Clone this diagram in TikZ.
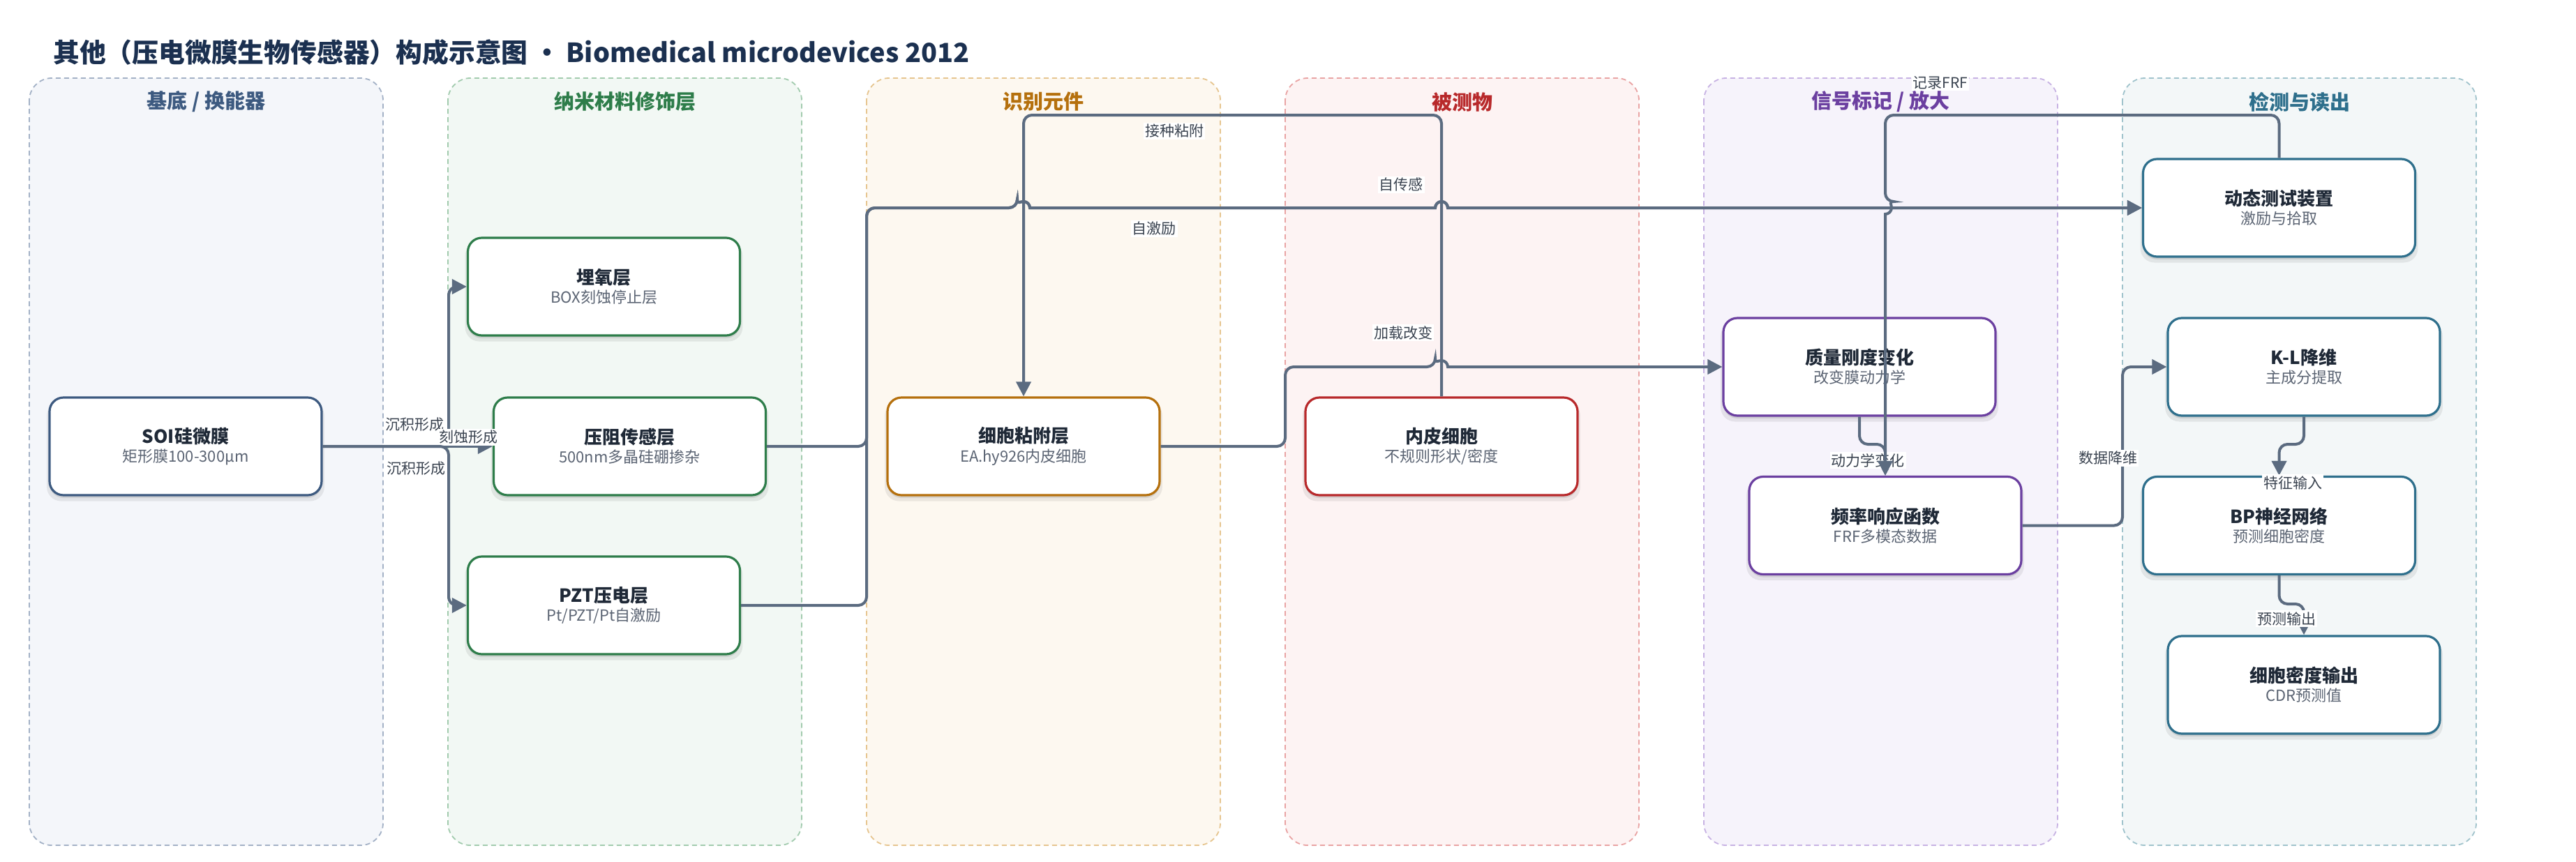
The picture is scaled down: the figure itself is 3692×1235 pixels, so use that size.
\documentclass[tikz,border=0pt]{standalone}
\usepackage{fontspec}
\setmainfont{Noto Sans CJK SC}
\usetikzlibrary{arrows.meta,shadows}
\definecolor{titlec}{HTML}{1B3050}
\definecolor{ttl}{HTML}{1F2937}
\definecolor{sub}{HTML}{5B6473}
\definecolor{lblc}{HTML}{3A4350}
\definecolor{linec}{HTML}{5B6B80}
\definecolor{fA}{HTML}{F4F6FA}\definecolor{bA}{HTML}{A3B1C6}\definecolor{cA}{HTML}{3D5A80}
\definecolor{fB}{HTML}{F2F8F4}\definecolor{bB}{HTML}{A2CBAE}\definecolor{cB}{HTML}{2E7D4A}
\definecolor{fC}{HTML}{FDF8F0}\definecolor{bC}{HTML}{E6C58F}\definecolor{cC}{HTML}{B5700D}
\definecolor{fD}{HTML}{FDF3F3}\definecolor{bD}{HTML}{E9A3A3}\definecolor{cD}{HTML}{B8292B}
\definecolor{fE}{HTML}{F6F3FB}\definecolor{bE}{HTML}{C7B2E3}\definecolor{cE}{HTML}{6B3FA0}
\definecolor{fF}{HTML}{F3F7F8}\definecolor{bF}{HTML}{A0C3CC}\definecolor{cF}{HTML}{2E6F8C}
\newcommand{\cardtext}[2]{{\fontsize{26}{30}\selectfont\bfseries\color{ttl}#1}\\[5pt]{\fontsize{22}{26}\selectfont\color{sub}#2}}
\tikzset{
  lanebox/.style 2 args={fill=#1, draw=#2, line width=1.8pt, dash pattern=on 7pt off 5pt, rounded corners=32pt},
  lanehead/.style={font=\fontsize{29}{34}\selectfont\bfseries, text=#1, inner sep=0pt},
  card/.style={draw=#1, line width=3.2pt, fill=white, rounded corners=20pt,
    minimum width=390pt, minimum height=140pt, align=center, inner sep=0pt,
    general shadow={shadow yshift=-7pt, shadow scale=1.02, opacity=.07, fill=black},
    general shadow={shadow yshift=-4pt, opacity=.09, fill=black}},
  conn/.style={draw=linec, line width=4pt, rounded corners=12pt,
    -{Triangle[length=21pt,width=21pt]}},
  lbl/.style={fill=white, inner sep=2pt, font=\fontsize{21}{24}\selectfont, text=lblc},
}
\begin{document}
\begin{tikzpicture}[x=1pt,y=-1pt]
\useasboundingbox (0,0) rectangle (3692,1235);
\fill[white] (0,0) rectangle (3692,1235);
% title
\node[anchor=west, font=\fontsize{37.8}{44}\selectfont\bfseries, text=titlec, inner sep=0pt] (title) at (76,75) {其他（压电微膜生物传感器）构成示意图 · Biomedical microdevices 2012};
% lanes
\draw[lanebox={fA}{bA}] (42,112) rectangle (549,1212);
\draw[lanebox={fB}{bB}] (642,112) rectangle (1149,1212);
\draw[lanebox={fC}{bC}] (1242,112) rectangle (1749,1212);
\draw[lanebox={fD}{bD}] (1842,112) rectangle (2349,1212);
\draw[lanebox={fE}{bE}] (2442,112) rectangle (2949,1212);
\draw[lanebox={fF}{bF}] (3042,112) rectangle (3549,1212);
\node[lanehead=cA] (h1) at (295.5,146) {基底 / 换能器};
\node[lanehead=cB] (h2) at (895.5,146) {纳米材料修饰层};
\node[lanehead=cC] (h3) at (1495.5,146) {识别元件};
\node[lanehead=cD] (h4) at (2095.5,146) {被测物};
\node[lanehead=cE] (h5) at (2695.5,146) {信号标记 / 放大};
\node[lanehead=cF] (h6) at (3295.5,146) {检测与读出};
% nodes
\node[card=cA] (soi) at (266,640) {\cardtext{SOI硅微膜}{矩形膜100-300μm}};
\node[card=cB] (box) at (865.5,411) {\cardtext{埋氧层}{BOX刻蚀停止层}};
\node[card=cB] (piezo) at (902.5,640) {\cardtext{压阻传感层}{500nm多晶硅硼掺杂}};
\node[card=cB] (pzt) at (865.5,868) {\cardtext{PZT压电层}{Pt/PZT/Pt自激励}};
\node[card=cC] (adh) at (1467,640) {\cardtext{细胞粘附层}{EA.hy926内皮细胞}};
\node[card=cD] (endo) at (2066,640) {\cardtext{内皮细胞}{不规则形状/密度}};
\node[card=cE] (mass) at (2665,526) {\cardtext{质量刚度变化}{改变膜动力学}};
\node[card=cE] (frf) at (2702,753.5) {\cardtext{频率响应函数}{FRF多模态数据}};
\node[card=cF] (dyn) at (3266.5,298) {\cardtext{动态测试装置}{激励与拾取}};
\node[card=cF] (kl) at (3302,526) {\cardtext{K-L降维}{主成分提取}};
\node[card=cF] (bp) at (3266.5,753.5) {\cardtext{BP神经网络}{预测细胞密度}};
\node[card=cF] (out) at (3302,982) {\cardtext{细胞密度输出}{CDR预测值}};
% edges
\draw[conn] (soi.east) -- (643,640) |- (box.west);
\node[lbl] (l1) at (594,609) {沉积形成};
\draw[conn] (soi.east) -- (piezo.west);
\node[lbl] (l2) at (671,627) {刻蚀形成};
\draw[conn] (soi.east) -- (643,640) |- (pzt.west);
\node[lbl] (l3) at (596,672) {沉积形成};
\draw[conn] (endo.north) -- (2066,165) -- (1467,165) -- (adh.north);
\node[lbl] (l7) at (1683,188) {接种粘附};
\draw[conn] (piezo.east) -- (1242,640) -- (1242,298) -- (1458,298) [sharp corners] arc[start angle=180,end angle=0,radius=9pt] -- (2057,298) arc[start angle=180,end angle=0,radius=9pt] -- (dyn.west);
\node[lbl] (l4) at (2008,265) {自传感};
\draw[conn] (pzt.east) -- (1242,868) -- (1242,298) -- (1458,298) [sharp corners] arc[start angle=180,end angle=0,radius=9pt] -- (2057,298) arc[start angle=180,end angle=0,radius=9pt] -- (dyn.west);
\node[lbl] (l5) at (1654,328) {自激励};
\draw[conn] (adh.east) -- (1842,640) -- (1842,526) -- (2057,526) [sharp corners] arc[start angle=180,end angle=0,radius=9pt] -- (mass.west);
\node[lbl] (l6) at (2011,477) {加载改变};
\draw[conn] (mass.south) -- (2665,637) -- (2702,637) -- (frf.north);
\node[lbl] (l8) at (2677,660) {动力学变化};
\draw[conn] (dyn.north) -- (3266.5,165) -- (2702,165) -- (2702,289) [sharp corners] arc[start angle=90,end angle=-90,radius=9pt] -- (frf.north);
\node[lbl] (l9) at (2781,119) {记录FRF};
\draw[conn] (frf.east) -- (3042,753.5) |- (kl.west);
\node[lbl] (l10) at (3021,657) {数据降维};
\draw[conn] (kl.south) -- (3302,637) -- (3266.5,637) -- (bp.north);
\node[lbl] (l11) at (3286,692) {特征输入};
\draw[conn] (bp.south) -- (3266.5,866) -- (3302,866) -- (out.north);
\node[lbl] (l12) at (3277,887) {预测输出};
\end{tikzpicture}
\end{document}
